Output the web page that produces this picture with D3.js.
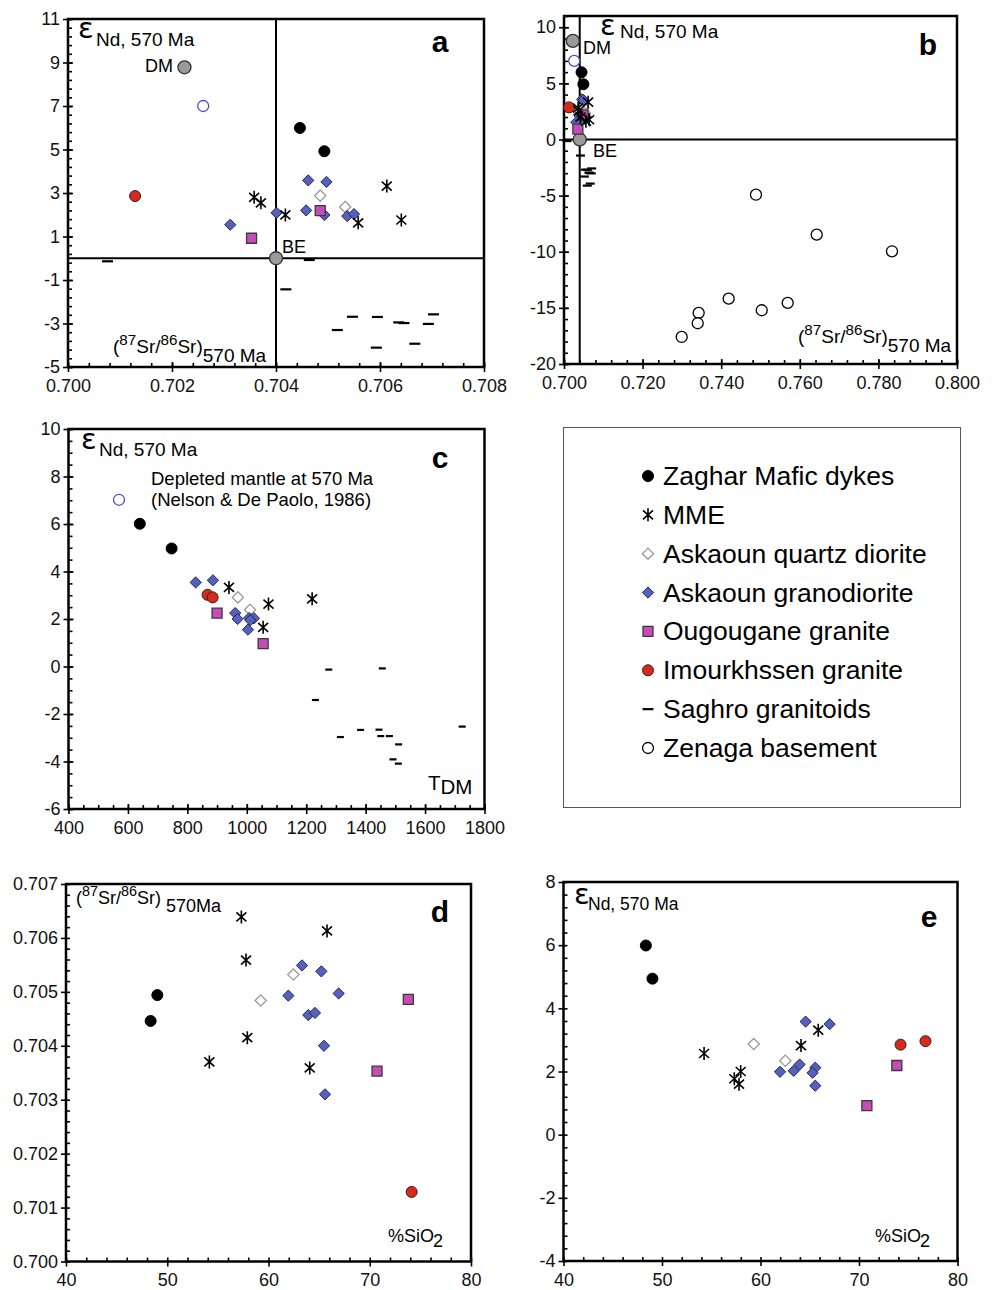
<!DOCTYPE html>
<html>
<head>
<meta charset="utf-8">
<script src="https://cdn.jsdelivr.net/npm/d3@7"></script>
<style>
  body { margin: 0; background: #fff; }
  svg { font-family: "Liberation Sans", Arial, Helvetica, sans-serif; }
  .tick text { font-size: 18px; fill: #111; font-family: "Liberation Sans", Arial, sans-serif; }
  .tick line { stroke: #000; stroke-width: 1.6px; }
</style>
</head>
<body>
<svg id="chart" width="1003" height="1290"></svg>
<script>
// ---- panels a & b : (87Sr/86Sr)570 Ma vs eNd 570 Ma ----
const srNdZaghar = [[0.70446, 5.99], [0.70493, 4.92]];
const srNdMME = [[0.70358, 2.80], [0.70371, 2.55], [0.70418, 1.99], [0.70613, 3.32], [0.70558, 1.63], [0.70641, 1.76]];
const srNdQtzDiorite = [[0.70485, 2.88], [0.70533, 2.36]];
const srNdGranodiorite = [[0.70462, 3.58], [0.70497, 3.51], [0.70401, 2.09], [0.70312, 1.54], [0.70458, 2.20], [0.70493, 1.99], [0.70537, 1.94], [0.70550, 2.03]];
const srNdOugougane = [[0.70353, 0.92], [0.70485, 2.19]];
const srNdImourkhssen = [[0.70129, 2.86]];
const srNdSaghro = [[0.70076, -0.14], [0.70464, -0.08], [0.70419, -1.43], [0.70547, -2.69], [0.70595, -2.70], [0.70636, -2.95],
  [0.70646, -2.98], [0.70703, -2.58], [0.70693, -3.02], [0.70518, -3.30], [0.70593, -4.11], [0.70667, -3.93]];
const srNdZenaga = [[0.74885, -4.92], [0.76430, -8.48], [0.78346, -9.96], [0.74190, -14.18], [0.75031, -15.21],
  [0.75692, -14.56], [0.73427, -15.45], [0.73402, -16.37], [0.72995, -17.59]];
const srNdDM = [[0.70224, 8.78]];
const srNdBE = [[0.704, 0]];
const srNdDM570 = [[0.70260, 7.0]];

// ---- panel c : TDM vs eNd ----
const tdmZaghar = [[640, 6.01], [747, 4.97]];
const tdmDM570 = [[570, 7.02]];
const tdmMME = [[940, 3.33], [1073, 2.63], [1220, 2.85], [1055, 1.65]];
const tdmQtzDiorite = [[970, 2.91], [1011, 2.39]];
const tdmGranodiorite = [[828, 3.54], [886, 3.63], [961, 2.25], [969, 2.00], [1008, 2.04], [1024, 2.03], [1004, 1.55], [1012, 1.95]];
const tdmOugougane = [[900, 2.25], [1055, 0.96]];
const tdmImourkhssen = [[868, 3.02], [885, 2.91]];
const tdmSaghro = [[1276, -0.13], [1456, -0.08], [1231, -1.41], [1383, -2.67], [1445, -2.66], [1451, -2.93],
  [1480, -2.93], [1315, -2.97], [1511, -3.28], [1725, -2.53], [1492, -3.91], [1510, -4.09]];

// ---- panel d : SiO2 vs (87Sr/86Sr)570 Ma ----
const siSrZaghar = [[49.02, 0.70494], [48.36, 0.70446]];
const siSrMME = [[57.32, 0.70639], [65.78, 0.70613], [57.78, 0.70559], [57.91, 0.70415], [54.16, 0.70370], [64.07, 0.70359]];
const siSrQtzDiorite = [[62.45, 0.70532], [59.23, 0.70484]];
const siSrGranodiorite = [[63.31, 0.70549], [65.22, 0.70538], [61.96, 0.70493], [66.93, 0.70497], [63.93, 0.70457],
  [64.59, 0.70461], [65.48, 0.70400], [65.58, 0.70310]];
const siSrOugougane = [[73.81, 0.70486], [70.72, 0.70353]];
const siSrImourkhssen = [[74.14, 0.70129]];

// ---- panel e : SiO2 vs eNd ----
const siNdZaghar = [[48.36, 5.99], [49.03, 4.94]];
const siNdMME = [[54.27, 2.57], [57.34, 1.77], [57.82, 1.60], [57.99, 2.00], [64.11, 2.82], [65.86, 3.31]];
const siNdQtzDiorite = [[59.31, 2.87], [62.52, 2.34]];
const siNdGranodiorite = [[61.98, 1.99], [63.37, 2.02], [63.97, 2.22], [64.58, 3.58], [67.02, 3.50], [65.56, 2.12], [65.29, 1.96], [65.56, 1.55]];
const siNdOugougane = [[73.84, 2.19], [70.80, 0.92]];
const siNdImourkhssen = [[74.22, 2.85], [76.75, 2.96]];

// legend
const legendNames = ["Zaghar Mafic dykes", "MME", "Askaoun quartz diorite", "Askaoun granodiorite",
  "Ougougane granite", "Imourkhssen granite", "Saghro granitoids", "Zenaga basement"];
const legendKinds = ["zaghar", "mme", "qtz", "grano", "oug", "imour", "saghro", "zenaga"];

const svg = d3.select("#chart");

// marker styles
const styles = {
  zaghar: { fill: "#000", stroke: "#000", sw: 1 },
  mme:    { fill: "none", stroke: "#000", sw: 1.6 },
  qtz:    { fill: "#fff", stroke: "#999", sw: 1.3 },
  grano:  { fill: "#5560c0", stroke: "#252550", sw: 1 },
  oug:    { fill: "#c64db6", stroke: "#3a3a3a", sw: 1.3 },
  imour:  { fill: "#d62a1c", stroke: "#3a1a1a", sw: 1 },
  saghro: { fill: "none", stroke: "#000", sw: 2.2 },
  zenaga: { fill: "#fff", stroke: "#000", sw: 1.3 },
  dm570:  { fill: "#fff", stroke: "#4a4fc2", sw: 1.3 },
  ref:    { fill: "#9a9a9a", stroke: "#333", sw: 1.3 }
};

function shape(kind, dash) {
  if (kind === "mme") return "M0,-6.5V6.5M-5,-4.5L5,4.5M-5,4.5L5,-4.5";
  if (kind === "saghro") return `M${-dash / 2},0H${dash / 2}`;
  if (kind === "qtz" || kind === "grano") return "M0,-5.6L5.6,0L0,5.6L-5.6,0Z";
  if (kind === "oug") return d3.symbol(d3.symbolSquare, 100)();
  if (kind === "ref") return d3.symbol(d3.symbolCircle, Math.PI * 6.5 * 6.5)();
  return d3.symbol(d3.symbolCircle, Math.PI * 5.5 * 5.5)();
}

function series(g, pts, kind, x, y, dash) {
  const s = styles[kind];
  g.append("g").selectAll("path").data(pts).join("path")
    .attr("transform", d => `translate(${x(d[0])},${y(d[1])})`)
    .attr("d", shape(kind, dash || 11))
    .attr("fill", s.fill).attr("stroke", s.stroke).attr("stroke-width", s.sw);
}

function steps(lo, hi, st) {
  return d3.range(lo, hi + st / 2, st).map(v => +v.toFixed(6));
}

function panel(c) {
  const x = d3.scaleLinear().domain(c.xDom).range([c.left, c.right]);
  const y = d3.scaleLinear().domain(c.yDom).range([c.bottom, c.top]);
  const g = svg.append("g");
  const clean = s => s.select(".domain").remove();

  // minor ticks, inside
  g.append("g").attr("transform", `translate(0,${c.bottom})`)
    .call(d3.axisBottom(x).tickValues(steps(c.xDom[0], c.xDom[1], c.xMinor)).tickSize(-4).tickFormat("")).call(clean);
  g.append("g").attr("transform", `translate(${c.left},0)`)
    .call(d3.axisLeft(y).tickValues(steps(c.yDom[0], c.yDom[1], c.yMinor)).tickSize(-4).tickFormat("")).call(clean);
  // major ticks
  if (c.cross) {
    g.append("g").attr("transform", `translate(0,${c.bottom})`)
      .call(d3.axisBottom(x).tickValues(c.xMajor).tickSize(-5).tickFormat("")).call(clean);
    g.append("g").attr("transform", `translate(${c.left},0)`)
      .call(d3.axisLeft(y).tickValues(c.yMajor).tickSize(-5).tickFormat("")).call(clean);
  }
  g.append("g").attr("transform", `translate(0,${c.bottom})`)
    .call(d3.axisBottom(x).tickValues(c.xMajor).tickSize(5).tickPadding(7).tickFormat(c.xFmt)).call(clean);
  g.append("g").attr("transform", `translate(${c.left},0)`)
    .call(d3.axisLeft(y).tickValues(c.yMajor).tickSize(5).tickPadding(3).tickFormat(c.yFmt)).call(clean);

  g.append("rect").attr("x", c.left).attr("y", c.top)
    .attr("width", c.right - c.left).attr("height", c.bottom - c.top)
    .attr("fill", "none").attr("stroke", "#000").attr("stroke-width", 2.5);

  if (c.vline !== undefined) {
    g.append("line").attr("x1", x(c.vline)).attr("x2", x(c.vline)).attr("y1", c.top).attr("y2", c.bottom)
      .attr("stroke", "#000").attr("stroke-width", 2);
  }
  if (c.hline !== undefined) {
    g.append("line").attr("x1", c.left).attr("x2", c.right).attr("y1", y(c.hline)).attr("y2", y(c.hline))
      .attr("stroke", "#000").attr("stroke-width", 2);
  }
  g.append("text").attr("x", c.letter[0]).attr("y", c.letter[1]).attr("text-anchor", "middle")
    .attr("font-size", 30).attr("font-weight", "bold").text(c.letter[2]);
  return { g, x, y };
}

function epsLabel(g, ex, ey, nx, ny, size) {
  g.append("text").attr("x", ex).attr("y", ey).attr("font-size", 29)
    .attr("font-family", "'DejaVu Sans', sans-serif").text("ε");
  g.append("text").attr("x", nx).attr("y", ny).attr("font-size", size).text("Nd, 570 Ma");
}

function srLabel(g, x0, y0, size, sub, subDy) {
  const t = g.append("text").attr("x", x0).attr("y", y0).attr("font-size", size);
  t.append("tspan").text("(");
  t.append("tspan").attr("font-size", size * 0.8).attr("dy", -8).text("87");
  t.append("tspan").attr("dy", 8).text("Sr/");
  t.append("tspan").attr("font-size", size * 0.8).attr("dy", -8).text("86");
  t.append("tspan").attr("dy", 8).text("Sr)");
  t.append("tspan").attr("dy", subDy).text(sub);
}

function sioLabel(g, x0, y0) {
  const t = g.append("text").attr("x", x0).attr("y", y0).attr("font-size", 18);
  t.append("tspan").text("%SiO");
  t.append("tspan").attr("dx", -1).attr("dy", 5).text("2");
}

const fmt3 = d => d.toFixed(3);
const fmtI = d => String(d);

// ---------- panel a ----------
{
  const { g, x, y } = panel({
    left: 68, right: 484, top: 19, bottom: 367, xDom: [0.700, 0.708], yDom: [-5, 11],
    xMajor: steps(0.700, 0.708, 0.002), xMinor: 0.0004, yMajor: steps(-5, 11, 2), yMinor: 0.4,
    xFmt: fmt3, yFmt: fmtI, cross: true, vline: 0.704, hline: 0, letter: [440, 52, "a"]
  });
  series(g, srNdSaghro, "saghro", x, y, 11);
  series(g, srNdDM, "ref", x, y);
  series(g, srNdBE, "ref", x, y);
  series(g, srNdDM570, "dm570", x, y);
  series(g, srNdZaghar, "zaghar", x, y);
  series(g, srNdImourkhssen, "imour", x, y);
  series(g, srNdQtzDiorite, "qtz", x, y);
  series(g, srNdGranodiorite, "grano", x, y);
  series(g, srNdOugougane, "oug", x, y);
  series(g, srNdMME, "mme", x, y);
  g.append("text").attr("x", 173).attr("y", 72).attr("text-anchor", "end").attr("font-size", 18).text("DM");
  g.append("text").attr("x", 282).attr("y", 253).attr("font-size", 18).text("BE");
  epsLabel(g, 78, 38, 96, 46, 19);
  srLabel(g, 113, 353, 19, "570 Ma", 9);
}

// ---------- panel b ----------
{
  const { g, x, y } = panel({
    left: 564, right: 957, top: 16, bottom: 364, xDom: [0.700, 0.800], yDom: [-20, 11],
    xMajor: steps(0.700, 0.800, 0.02), xMinor: 0.004, yMajor: steps(-20, 10, 5), yMinor: 1,
    xFmt: fmt3, yFmt: fmtI, cross: true, vline: 0.704, hline: 0, letter: [928, 55, "b"]
  });
  series(g, srNdSaghro, "saghro", x, y, 9);
  series(g, srNdZenaga, "zenaga", x, y);
  series(g, srNdDM, "ref", x, y);
  series(g, srNdBE, "ref", x, y);
  series(g, srNdDM570, "dm570", x, y);
  series(g, srNdZaghar, "zaghar", x, y);
  series(g, srNdImourkhssen, "imour", x, y);
  series(g, srNdQtzDiorite, "qtz", x, y);
  series(g, srNdGranodiorite, "grano", x, y);
  series(g, srNdOugougane, "oug", x, y);
  series(g, srNdMME, "mme", x, y);
  g.append("text").attr("x", 583).attr("y", 54).attr("font-size", 18).text("DM");
  g.append("text").attr("x", 593).attr("y", 157).attr("font-size", 18).text("BE");
  epsLabel(g, 600, 35, 620, 38, 19);
  srLabel(g, 798, 343, 19, "570 Ma", 9);
}

// ---------- panel c ----------
{
  const { g, x, y } = panel({
    left: 68.5, right: 484.5, top: 429, bottom: 809, xDom: [400, 1800], yDom: [-6, 10],
    xMajor: steps(400, 1800, 200), xMinor: 50, yMajor: steps(-6, 10, 2), yMinor: 0.5,
    xFmt: fmtI, yFmt: fmtI, cross: true, letter: [440, 468, "c"]
  });
  series(g, tdmSaghro, "saghro", x, y, 7);
  series(g, tdmDM570, "dm570", x, y);
  series(g, tdmZaghar, "zaghar", x, y);
  series(g, tdmImourkhssen, "imour", x, y);
  series(g, tdmQtzDiorite, "qtz", x, y);
  series(g, tdmGranodiorite, "grano", x, y);
  series(g, tdmOugougane, "oug", x, y);
  series(g, tdmMME, "mme", x, y);
  epsLabel(g, 81, 449, 99, 456, 19);
  g.append("text").attr("x", 151).attr("y", 485).attr("font-size", 18.5).text("Depleted mantle at 570 Ma");
  g.append("text").attr("x", 151).attr("y", 506).attr("font-size", 18.5).text("(Nelson & De Paolo, 1986)");
  const t = g.append("text").attr("x", 428).attr("y", 790).attr("font-size", 20.5);
  t.append("tspan").text("T");
  t.append("tspan").attr("dy", 4).text("DM");
}

// ---------- legend ----------
{
  const g = svg.append("g");
  g.append("rect").attr("x", 563.5).attr("y", 427.5).attr("width", 397).attr("height", 380)
    .attr("fill", "none").attr("stroke", "#555").attr("stroke-width", 1);
  const ly = d3.scalePoint().domain(legendNames).range([476, 748]);
  legendNames.forEach((name, i) => {
    const kind = legendKinds[i];
    const s = styles[kind];
    g.append("path").attr("transform", `translate(648,${ly(name)})`)
      .attr("d", shape(kind, 11))
      .attr("fill", s.fill).attr("stroke", s.stroke).attr("stroke-width", s.sw);
    g.append("text").attr("x", 663).attr("y", ly(name) + 9).attr("font-size", 26.5).text(name);
  });
}

// ---------- panel d ----------
{
  const { g, x, y } = panel({
    left: 66, right: 471, top: 884, bottom: 1261.5, xDom: [40, 80], yDom: [0.700, 0.707],
    xMajor: steps(40, 80, 10), xMinor: 2, yMajor: steps(0.700, 0.707, 0.001), yMinor: 0.0002,
    xFmt: fmtI, yFmt: fmt3, cross: false, letter: [440, 922, "d"]
  });
  series(g, siSrZaghar, "zaghar", x, y);
  series(g, siSrImourkhssen, "imour", x, y);
  series(g, siSrQtzDiorite, "qtz", x, y);
  series(g, siSrGranodiorite, "grano", x, y);
  series(g, siSrOugougane, "oug", x, y);
  series(g, siSrMME, "mme", x, y);
  srLabel(g, 76, 904, 18, " 570Ma", 8);
  sioLabel(g, 388, 1242);
}

// ---------- panel e ----------
{
  const { g, x, y } = panel({
    left: 563.5, right: 957.5, top: 882, bottom: 1261, xDom: [40, 80], yDom: [-4, 8],
    xMajor: steps(40, 80, 10), xMinor: 2, yMajor: steps(-4, 8, 2), yMinor: 0.4,
    xFmt: fmtI, yFmt: fmtI, cross: false, letter: [929, 927, "e"]
  });
  series(g, siNdZaghar, "zaghar", x, y);
  series(g, siNdImourkhssen, "imour", x, y);
  series(g, siNdQtzDiorite, "qtz", x, y);
  series(g, siNdGranodiorite, "grano", x, y);
  series(g, siNdOugougane, "oug", x, y);
  series(g, siNdMME, "mme", x, y);
  epsLabel(g, 574, 904, 588, 910, 17.5);
  sioLabel(g, 875, 1242);
}
</script>
</body>
</html>
